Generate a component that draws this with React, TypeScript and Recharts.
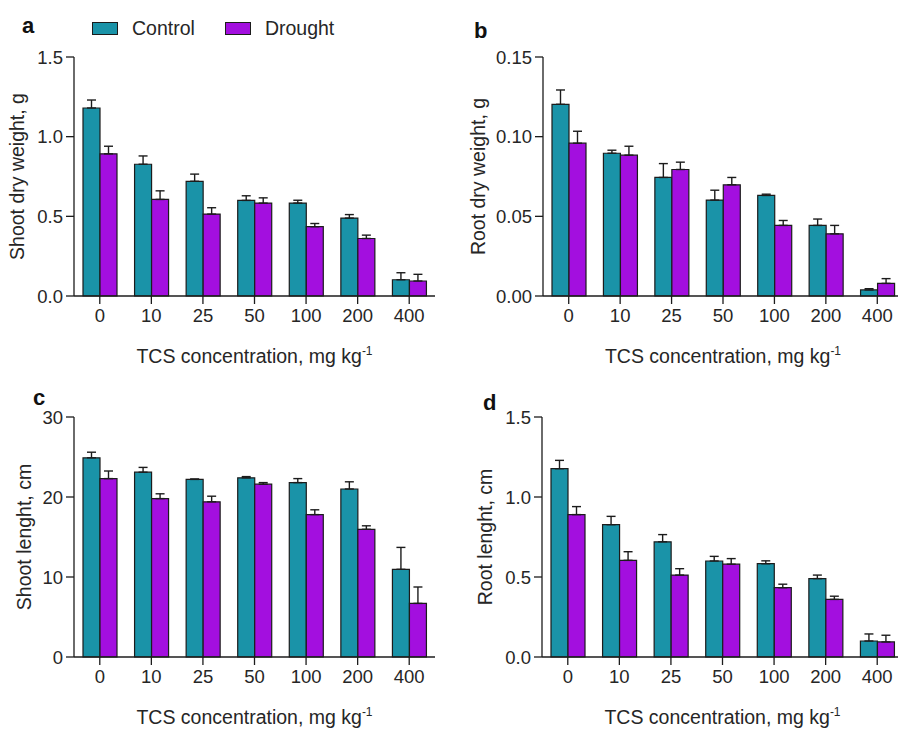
import { BarChart, Bar, XAxis, YAxis, ErrorBar, Legend, Label } from 'recharts';

const CONTROL = '#1a93a8';
const DROUGHT = '#a30fdf';
const EDGE = '#1c1c1c';
const TEXT = '#262626';

const categories = ['0', '10', '25', '50', '100', '200', '400'];

// a - shoot dry weight, g
const shootDryControl = [1.18, 0.827, 0.72, 0.60, 0.583, 0.489, 0.102];
const shootDryControlSe = [0.05, 0.052, 0.045, 0.029, 0.018, 0.022, 0.044];
const shootDryDrought = [0.892, 0.606, 0.514, 0.583, 0.435, 0.361, 0.094];
const shootDryDroughtSe = [0.048, 0.054, 0.04, 0.033, 0.02, 0.021, 0.042];

// b - root dry weight, g
const rootDryControl = [0.1203, 0.0896, 0.0744, 0.0602, 0.0631, 0.0443, 0.0038];
const rootDryControlSe = [0.009, 0.0019, 0.0087, 0.0062, 0.0008, 0.004, 0.0008];
const rootDryDrought = [0.0959, 0.0884, 0.0794, 0.0698, 0.0443, 0.039, 0.0079];
const rootDryDroughtSe = [0.0075, 0.0056, 0.0046, 0.0046, 0.0031, 0.0053, 0.003];

// c - shoot length, cm
const shootLenControl = [24.9, 23.1, 22.2, 22.4, 21.8, 21.0, 10.96];
const shootLenControlSe = [0.7, 0.6, 0.05, 0.15, 0.5, 0.9, 2.74];
const shootLenDrought = [22.3, 19.8, 19.4, 21.6, 17.8, 15.96, 6.7];
const shootLenDroughtSe = [0.95, 0.6, 0.7, 0.2, 0.6, 0.44, 2.05];

// d - root length, cm
const rootLenControl = [1.177, 0.827, 0.72, 0.60, 0.583, 0.49, 0.10];
const rootLenControlSe = [0.052, 0.052, 0.045, 0.029, 0.018, 0.022, 0.044];
const rootLenDrought = [0.89, 0.604, 0.512, 0.58, 0.433, 0.36, 0.094];
const rootLenDroughtSe = [0.05, 0.054, 0.04, 0.035, 0.022, 0.02, 0.042];

function makeRows(ctrl: number[], ctrlSe: number[], dry: number[], drySe: number[]) {
  return categories.map((conc, i) => ({
    conc,
    control: ctrl[i],
    controlErr: [0, ctrlSe[i]],
    drought: dry[i],
    droughtErr: [0, drySe[i]],
  }));
}

const renderLegend = (props: any) => {
  const items = (props.payload || []).map((p: any) => ({ name: p.value, color: p.color }));
  return (
    <div style={{ display: 'flex', alignItems: 'center', fontSize: 19.5, color: TEXT, lineHeight: '20px' }}>
      {items.map((it: any, i: number) => (
        <div key={it.name} style={{ display: 'flex', alignItems: 'center', marginRight: i === 0 ? 30 : 0 }}>
          <span
            style={{
              display: 'inline-block',
              width: 24,
              height: 11,
              background: it.color,
              border: `1px solid ${EDGE}`,
              marginRight: 14,
            }}
          />
          <span>{it.name}</span>
        </div>
      ))}
    </div>
  );
};

interface PanelProps {
  letter: string;
  left: number;
  top: number;
  width: number;
  height: number;
  yWidth: number;
  xHeight: number;
  marginRight: number;
  rows: any[];
  domain: [number, number];
  ticks: number[];
  digits: number;
  yTitle: string;
  titleX: number;
  letterX: number;
  letterY: number;
  showLegend?: boolean;
}

function Panel(p: PanelProps) {
  const plotTop = 57;
  const plotBottom = p.height - p.xHeight;
  const plotW = p.width - p.yWidth - p.marginRight;
  const axisStyle = { stroke: EDGE, strokeWidth: 1.3 };

  const yTitle = () => (
    <g>
      <text
        x={p.titleX}
        y={(plotTop + plotBottom) / 2}
        transform={`rotate(-90, ${p.titleX}, ${(plotTop + plotBottom) / 2})`}
        textAnchor="middle"
        fontSize={19.5}
        fill={TEXT}
      >
        {p.yTitle}
      </text>
      <text x={p.letterX} y={p.letterY} fontSize={22} fontWeight="bold" fill="#111">
        {p.letter}
      </text>
    </g>
  );

  const xTitle = () => (
    <text x={p.yWidth + plotW / 2} y={plotBottom + 67} textAnchor="middle" fontSize={19.5} fill={TEXT}>
      TCS concentration, mg kg
      <tspan dy={-8} fontSize={12}>-1</tspan>
    </text>
  );

  return (
    <div style={{ position: 'absolute', left: p.left, top: p.top }}>
      <BarChart
        width={p.width}
        height={p.height}
        data={p.rows}
        margin={{ top: plotTop, right: p.marginRight, bottom: 0, left: 0 }}
        barGap={0}
      >
        <XAxis
          dataKey="conc"
          height={p.xHeight}
          interval={0}
          tickSize={8}
          tickMargin={5}
          axisLine={axisStyle}
          tickLine={axisStyle}
          tick={{ fill: TEXT, fontSize: 18.5 }}
        >
          <Label content={xTitle} />
        </XAxis>
        <YAxis
          type="number"
          domain={p.domain}
          ticks={p.ticks}
          interval={0}
          width={p.yWidth}
          tickSize={8}
          tickMargin={3}
          tickFormatter={(v: number) => v.toFixed(p.digits)}
          axisLine={axisStyle}
          tickLine={axisStyle}
          tick={{ fill: TEXT, fontSize: 18.5 }}
        >
          <Label content={yTitle} />
        </YAxis>
        {p.showLegend && (
          <Legend
            content={renderLegend}
            layout="horizontal"
            verticalAlign="middle"
            align="center"
            wrapperStyle={{ left: 92, top: 18, width: 'auto' }}
          />
        )}
        <Bar dataKey="control" name="Control" fill={CONTROL} stroke={EDGE} strokeWidth={1.2} barSize={17} isAnimationActive={false}>
          <ErrorBar dataKey="controlErr" direction="y" width={4.5} stroke={EDGE} strokeWidth={1.4} isAnimationActive={false} />
        </Bar>
        <Bar dataKey="drought" name="Drought" fill={DROUGHT} stroke={EDGE} strokeWidth={1.2} barSize={17} isAnimationActive={false}>
          <ErrorBar dataKey="droughtErr" direction="y" width={4.5} stroke={EDGE} strokeWidth={1.4} isAnimationActive={false} />
        </Bar>
      </BarChart>
    </div>
  );
}

export default function App() {
  return (
    <div
      style={{
        position: 'absolute',
        left: 0,
        top: 0,
        width: 898,
        height: 729,
        overflow: 'hidden',
        background: '#fff',
        fontFamily: '"Liberation Sans", Arial, sans-serif',
      }}
    >
      <Panel
        letter="a"
        left={0}
        top={0}
        width={449}
        height={376}
        yWidth={74}
        xHeight={80}
        marginRight={14}
        rows={makeRows(shootDryControl, shootDryControlSe, shootDryDrought, shootDryDroughtSe)}
        domain={[0, 1.5]}
        ticks={[0, 0.5, 1, 1.5]}
        digits={1}
        yTitle="Shoot dry weight, g"
        titleX={24}
        letterX={22}
        letterY={33}
        showLegend
      />
      <Panel
        letter="b"
        left={449}
        top={0}
        width={460}
        height={376}
        yWidth={94}
        xHeight={80}
        marginRight={6}
        rows={makeRows(rootDryControl, rootDryControlSe, rootDryDrought, rootDryDroughtSe)}
        domain={[0, 0.15]}
        ticks={[0, 0.05, 0.1, 0.15]}
        digits={2}
        yTitle="Root dry weight, g"
        titleX={36}
        letterX={25}
        letterY={38}
      />
      <Panel
        letter="c"
        left={0}
        top={360}
        width={449}
        height={369}
        yWidth={74}
        xHeight={72}
        marginRight={14}
        rows={makeRows(shootLenControl, shootLenControlSe, shootLenDrought, shootLenDroughtSe)}
        domain={[0, 30]}
        ticks={[0, 10, 20, 30]}
        digits={0}
        yTitle="Shoot lenght, cm"
        titleX={31}
        letterX={33}
        letterY={45}
      />
      <Panel
        letter="d"
        left={449}
        top={360}
        width={460}
        height={369}
        yWidth={93}
        xHeight={72}
        marginRight={6}
        rows={makeRows(rootLenControl, rootLenControlSe, rootLenDrought, rootLenDroughtSe)}
        domain={[0, 1.5]}
        ticks={[0, 0.5, 1, 1.5]}
        digits={1}
        yTitle="Root lenght, cm"
        titleX={43}
        letterX={34}
        letterY={50}
      />
    </div>
  );
}
